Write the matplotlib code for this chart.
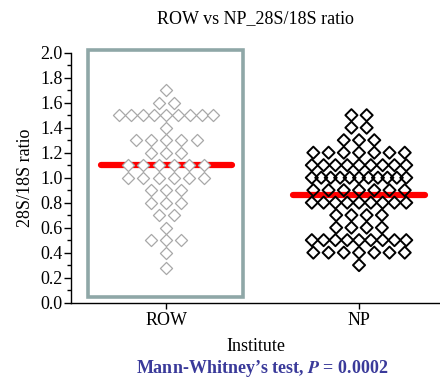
import numpy as np
import matplotlib
matplotlib.use('Agg')
import matplotlib.pyplot as plt
from matplotlib.patches import Rectangle
from matplotlib.ticker import MultipleLocator

plt.rcParams['font.family'] = ['Liberation Serif', 'DejaVu Serif']
plt.rcParams['mathtext.fontset'] = 'stix'

groups = ['ROW', 'NP']

row_values = [1.7,
              1.6, 1.6,
              1.5, 1.5, 1.5, 1.5, 1.5, 1.5, 1.5, 1.5, 1.5,
              1.4,
              1.3, 1.3, 1.3, 1.3, 1.3,
              1.2, 1.2, 1.2,
              1.1, 1.1, 1.1, 1.1, 1.1, 1.1,
              1.0, 1.0, 1.0, 1.0, 1.0, 1.0,
              0.9, 0.9, 0.9,
              0.8, 0.8, 0.8,
              0.7, 0.7,
              0.6,
              0.5, 0.5, 0.5,
              0.4,
              0.28]

np_values = [1.5, 1.5,
             1.4, 1.4,
             1.3, 1.3, 1.3,
             1.2, 1.2, 1.2, 1.2, 1.2, 1.2, 1.2,
             1.1, 1.1, 1.1, 1.1, 1.1, 1.1, 1.1, 1.1, 1.1,
             1.0, 1.0, 1.0, 1.0, 1.0, 1.0, 1.0, 1.0, 1.0, 1.0, 1.0,
             0.9, 0.9, 0.9, 0.9, 0.9, 0.9, 0.9,
             0.8, 0.8, 0.8, 0.8, 0.8, 0.8, 0.8, 0.8, 0.8,
             0.7, 0.7, 0.7, 0.7,
             0.6, 0.6, 0.6, 0.6,
             0.5, 0.5, 0.5, 0.5, 0.5, 0.5, 0.5, 0.5, 0.5,
             0.4, 0.4, 0.4, 0.4, 0.4, 0.4, 0.4,
             0.3]

center_lines = [1.10, 0.86]


# spread points that share a value side by side around the group centre
def spread(values, center, step=0.079, half_width=0.245):
    values = np.asarray(values)
    xs = np.zeros(len(values))
    for v in np.unique(values):
        idx = np.where(values == v)[0]
        n = len(idx)
        if n > 1:
            d = min(step, 2 * half_width / (n - 1))
        else:
            d = 0
        xs[idx] = center + (np.arange(n) - (n - 1) / 2) * d
    return xs


fig = plt.figure(figsize=(4.4, 3.85), dpi=100)
ax = fig.add_axes([0.161, 0.214, 0.839, 0.649])

ax.set_xlim(-0.495, 1.42)
ax.set_ylim(0, 2.0)

# box around the ROW group
ax.add_patch(Rectangle((-0.405, 0.043), 0.805, 1.977, fill=False,
                       edgecolor='#8fa7a7', linewidth=2.6, zorder=1,
                       clip_on=False))

x_row = spread(row_values, 0)
x_np = spread(np_values, 1)

ax.plot([-0.34, 0.34], [center_lines[0]] * 2, color='#ff0000', lw=4.5,
        solid_capstyle='round', zorder=2)
ax.plot([0.66, 1.34], [center_lines[1]] * 2, color='#ff0000', lw=4.5,
        solid_capstyle='round', zorder=2)

ax.scatter(x_row, row_values, marker='D', s=38, facecolor='white',
           edgecolor='#a8a8a8', linewidth=0.9, zorder=3)
ax.scatter(x_np, np_values, marker='D', s=38, facecolor='none',
           edgecolor='black', linewidth=1.4, zorder=3)

ax.set_xticks([0, 1])
ax.set_xticklabels(groups, fontsize=13)
ax.set_yticks(np.arange(0, 2.01, 0.2))
ax.set_yticklabels([f'{t:.1f}' for t in np.arange(0, 2.01, 0.2)], fontsize=13)
ax.yaxis.set_minor_locator(MultipleLocator(0.1))
ax.tick_params(axis='y', which='major', length=5, width=1, pad=1)
ax.tick_params(axis='y', which='minor', length=3, width=1)
ax.tick_params(axis='x', length=4, width=1, pad=3)

for s in ['top', 'right']:
    ax.spines[s].set_visible(False)
ax.spines['left'].set_linewidth(1)
ax.spines['bottom'].set_linewidth(1)

ax.set_ylabel('28S/18S ratio', fontsize=13, labelpad=4)
ax.set_xlabel('Institute', fontsize=13, labelpad=6)
ax.set_title('ROW vs NP_28S/18S ratio', fontsize=13, pad=21)

fig.text(0.595, 0.03, "Mann-Whitney\u2019s test, $\\mathbfit{P}$ = 0.0002",
         ha='center', fontsize=13, fontweight='bold', color='#3a3a9a')

fig.savefig('out.png', dpi=100)
